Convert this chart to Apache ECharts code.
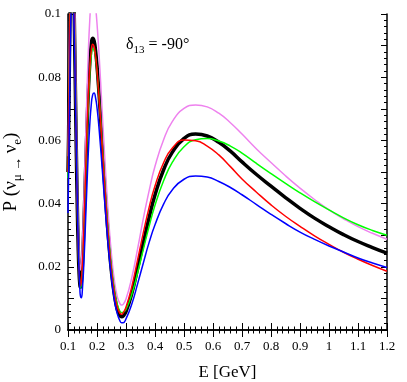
<!DOCTYPE html>
<html><head><meta charset="utf-8">
<script src="https://cdn.jsdelivr.net/npm/echarts@6/dist/echarts.min.js"></script>
<style>html,body{margin:0;padding:0;background:#fff;}#c{width:407px;height:382px;}</style>
</head><body><div id="c"></div>
<script>
const energy = [0.100,0.102,0.104,0.106,0.108,0.111,0.114,0.117,0.120,0.123,0.126,0.129,0.132,0.135,0.138,0.141,0.143,0.146,0.150,0.155,0.160,0.165,0.170,0.175,0.180,0.185,0.190,0.195,0.200,0.205,0.210,0.215,0.220,0.230,0.240,0.250,0.260,0.270,0.280,0.285,0.290,0.300,0.320,0.340,0.360,0.380,0.400,0.430,0.460,0.500,0.540,0.580,0.620,0.660,0.700,0.750,0.800,0.850,0.900,0.950,1.000,1.050,1.100,1.150,1.200];

const pBlack = [0.050,0.061,0.078,0.093,0.106,0.119,0.125,0.1197,0.1075,0.091,0.0727,0.0549,0.0394,0.0270,0.0186,0.0142,0.0135,0.0152,0.0215,0.0337,0.0484,0.0628,0.0752,0.0843,0.0901,0.0923,0.0915,0.0884,0.0836,0.0775,0.0707,0.0632,0.0556,0.0412,0.0285,0.0183,0.0111,0.0065,0.0044,0.0042,0.0044,0.0058,0.0115,0.0195,0.0277,0.0357,0.0427,0.0508,0.0563,0.0606,0.0620,0.0614,0.0594,0.0566,0.0532,0.0492,0.0455,0.0419,0.0385,0.0354,0.0327,0.0302,0.0280,0.0261,0.0243];

const pViolet = [0.055,0.068,0.085,0.101,0.116,0.132,0.140,0.1342,0.121,0.103,0.0832,0.0639,0.0471,0.0336,0.0245,0.0198,0.0190,0.0209,0.0279,0.0415,0.0579,0.0740,0.0878,0.0979,0.1044,0.1069,0.1060,0.1024,0.0970,0.0902,0.0826,0.0741,0.0656,0.0494,0.0351,0.0237,0.0156,0.0105,0.0082,0.0079,0.0081,0.0098,0.0166,0.0257,0.0354,0.0442,0.0518,0.0603,0.0660,0.0701,0.0712,0.0706,0.0686,0.0656,0.0620,0.0573,0.0530,0.0488,0.0449,0.0413,0.0380,0.0352,0.0327,0.0306,0.0287];

const pRed = [0.050,0.062,0.079,0.094,0.107,0.119,0.124,0.119,0.107,0.0905,0.072,0.0545,0.039,0.027,0.0188,0.0145,0.0140,0.0156,0.0217,0.0336,0.0480,0.0620,0.0738,0.0826,0.0883,0.0904,0.0897,0.0867,0.0820,0.0760,0.0695,0.0622,0.0548,0.0408,0.0285,0.0187,0.0117,0.0072,0.0052,0.0050,0.0054,0.0072,0.0137,0.0222,0.0309,0.0389,0.0456,0.0530,0.0576,0.0601,0.0599,0.0582,0.0554,0.0517,0.0478,0.0436,0.0396,0.0360,0.0328,0.0298,0.0271,0.0246,0.0224,0.0204,0.0186];

const pGreen = [0.048,0.059,0.075,0.090,0.103,0.116,0.122,0.118,0.107,0.091,0.0735,0.0557,0.0400,0.0275,0.0188,0.0142,0.0132,0.0145,0.0203,0.0318,0.0458,0.0597,0.0718,0.0808,0.0866,0.0889,0.0886,0.0862,0.0817,0.0764,0.0701,0.0631,0.0560,0.0421,0.0298,0.0199,0.0127,0.0081,0.0058,0.0055,0.0056,0.0065,0.0113,0.0181,0.0256,0.0329,0.0395,0.0473,0.0531,0.0580,0.0602,0.0606,0.0598,0.0582,0.0560,0.0527,0.0495,0.0464,0.0434,0.0406,0.0380,0.0355,0.0333,0.0315,0.0300];

const pBlue = [0.037,0.048,0.062,0.076,0.089,0.103,0.110,0.108,0.0999,0.0873,0.0717,0.0558,0.041,0.0283,0.0188,0.0128,0.0107,0.0102,0.0134,0.0217,0.0330,0.0450,0.0560,0.0649,0.0711,0.0744,0.0750,0.0735,0.0704,0.0659,0.0605,0.0547,0.0485,0.0364,0.0253,0.0163,0.0095,0.0051,0.0027,0.0023,0.0023,0.0035,0.0082,0.0146,0.0213,0.0278,0.0333,0.0399,0.0444,0.0477,0.0487,0.0484,0.0470,0.0451,0.0428,0.0397,0.0366,0.0337,0.0310,0.0287,0.0266,0.0247,0.0228,0.0212,0.0198];

const xTickLabels = ['0.1','0.2','0.3','0.4','0.5','0.6','0.7','0.8','0.9','1','1.1','1.2'];
const yTickLabels = ['0','','0.02','','0.04','','0.06','','0.08','','0.1'];

const chart = echarts.init(document.getElementById('c'), null, {renderer:'canvas'});
const FONT = 'Liberation Serif';
function pair(arr){ return energy.map((e,i)=>[e, arr[i]]); }
function xLab(v){ const i = Math.round((v-0.1)/0.1); return xTickLabels[i] !== undefined ? xTickLabels[i] : ''; }
function yLab(v){ const i = Math.round(v/0.01); return yTickLabels[i] !== undefined ? yTickLabels[i] : ''; }

const tickCommon = {
  axisLine:{show:true, lineStyle:{color:'#000', width:1.5}},
  splitLine:{show:false},
};
const xBase = Object.assign({type:'value', min:0.1, max:1.2, interval:0.1,
  axisTick:{show:true, inside:true, length:7, lineStyle:{color:'#000', width:1}},
  minorTick:{show:true, splitNumber:5, length:3.5, lineStyle:{color:'#000', width:1}}}, tickCommon);
const yBase = Object.assign({type:'value', min:0, max:0.1, interval:0.01,
  axisTick:{show:true, inside:true, length:6, lineStyle:{color:'#000', width:1}},
  minorTick:{show:true, splitNumber:5, length:3, lineStyle:{color:'#000', width:1}}}, tickCommon);

function line(name, arr, color, width, z){
  return {name, type:'line', data:pair(arr), showSymbol:false, smooth:0.5,
    lineStyle:{color, width}, itemStyle:{color}, z, clip:true, animation:false};
}

chart.setOption({
  animation:false,
  backgroundColor:'#fff',
  grid:{left:68, right:20, top:14, bottom:52, containLabel:false, outerBoundsMode:'none'},
  xAxis:[
    Object.assign({}, xBase, {position:'bottom',
      axisLabel:{show:true, formatter:xLab, color:'#000', fontFamily:FONT, fontSize:13, margin:10},
      name:'E [GeV]', nameLocation:'middle', nameGap:34,
      nameTextStyle:{color:'#000', fontFamily:FONT, fontSize:17}}),
    Object.assign({}, xBase, {position:'top', axisLabel:{show:false}})
  ],
  yAxis:[
    Object.assign({}, yBase, {position:'left',
      axisLabel:{show:true, formatter:yLab, color:'#000', fontFamily:FONT, fontSize:13, margin:7},
      name:'{n|P (ν}{s|μ}{a| → }{n|ν}{s|e}{n|)}', nameLocation:'middle', nameGap:44, nameRotate:90,
      nameTextStyle:{color:'#000', fontFamily:FONT, fontSize:19,
        rich:{
          n:{fontFamily:FONT, fontSize:19, color:'#000', lineHeight:26, verticalAlign:'middle'},
          s:{fontFamily:FONT, fontSize:13, color:'#000', lineHeight:26, verticalAlign:'bottom'},
          a:{fontFamily:FONT, fontSize:14, color:'#000', lineHeight:26, verticalAlign:'bottom'}
        }}}),
    Object.assign({}, yBase, {position:'right', axisLabel:{show:false}})
  ],
  graphic:[{
    type:'text', left:126, top:37, z:100,
    style:{
      text:'{n|δ}{s|13}{n| = -90°}',
      rich:{
        n:{fontFamily:FONT, fontSize:16, fill:'#000', lineHeight:22, verticalAlign:'middle'},
        s:{fontFamily:FONT, fontSize:11, fill:'#000', lineHeight:22, verticalAlign:'bottom'}
      }
    }
  }],
  series:[
    line('black', pBlack, '#000000', 3.5, 2),
    line('violet', pViolet, '#EE82EE', 1.5, 3),
    line('green', pGreen, '#00FF00', 1.5, 3),
    line('red', pRed, '#FF0000', 1.5, 3),
    line('blue', pBlue, '#0000FF', 1.5, 3)
  ]
});
</script></body></html>
